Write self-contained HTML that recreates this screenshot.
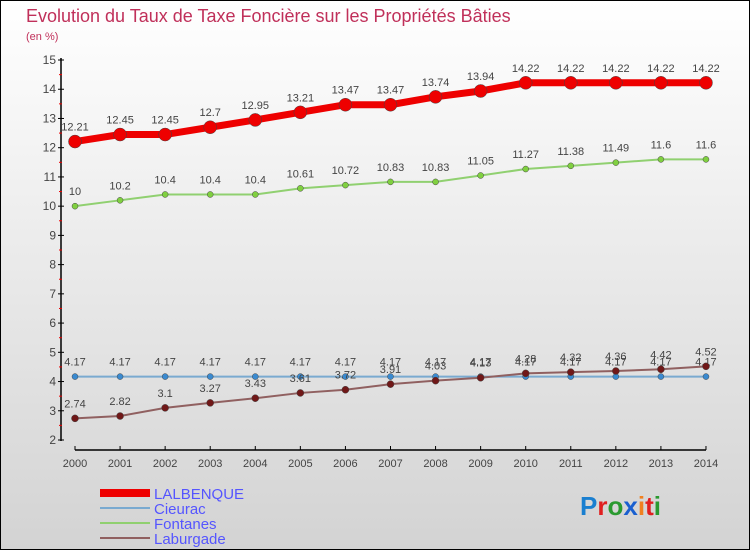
<!DOCTYPE html>
<html><head><meta charset="utf-8"><style>
body{margin:0;width:750px;height:550px;overflow:hidden;font-family:"Liberation Sans",sans-serif}
#c{position:absolute;left:0;top:0;width:748px;height:548px;border:1px solid #000;background:linear-gradient(#fff,#d3d3d3)}
</style></head><body>
<div id="c">
<svg id="s" width="750" height="550" style="position:absolute;left:-1px;top:-1px">
<text x="26" y="22" font-size="18" fill="#c0305a">Evolution du Taux de Taxe Foncière sur les Propriétés Bâties</text>
<text x="26" y="40" font-size="11" fill="#c0305a">(en %)</text>
<g id="axes"></g><g id="series"></g>
<g>
<line x1="100" y1="493" x2="150" y2="493" stroke="#e00" stroke-width="8"/>
<text x="154" y="499" font-size="15" fill="#55f">LALBENQUE</text>
<line x1="100" y1="508" x2="150" y2="508" stroke="#7aaad0" stroke-width="2"/>
<text x="154" y="514" font-size="15" fill="#55f">Cieurac</text>
<line x1="100" y1="523" x2="150" y2="523" stroke="#90d070" stroke-width="2"/>
<text x="154" y="529" font-size="15" fill="#55f">Fontanes</text>
<line x1="100" y1="538" x2="150" y2="538" stroke="#906060" stroke-width="2"/>
<text x="154" y="544" font-size="15" fill="#55f">Laburgade</text>
</g>
<text x="580" y="515" font-size="26" font-weight="bold"><tspan fill="#1a7fd0">P</tspan><tspan fill="#e02020">r</tspan><tspan fill="#2a9a30">o</tspan><tspan fill="#1a60d0">x</tspan><tspan fill="#f08020">i</tspan><tspan fill="#e02020">t</tspan><tspan fill="#2a9a30">i</tspan></text>
</svg></div>
<script>
const years=[2000,2001,2002,2003,2004,2005,2006,2007,2008,2009,2010,2011,2012,2013,2014];
const lalbenque=[12.21,12.45,12.45,12.7,12.95,13.21,13.47,13.47,13.74,13.94,14.22,14.22,14.22,14.22,14.22];
const cieurac=[4.17,4.17,4.17,4.17,4.17,4.17,4.17,4.17,4.17,4.17,4.17,4.17,4.17,4.17,4.17];
const fontanes=[10,10.2,10.4,10.4,10.4,10.61,10.72,10.83,10.83,11.05,11.27,11.38,11.49,11.6,11.6];
const laburgade=[2.74,2.82,3.1,3.27,3.43,3.61,3.72,3.91,4.03,4.13,4.28,4.32,4.36,4.42,4.52];
const yTicks=[2,3,4,5,6,7,8,9,10,11,12,13,14,15];
const NS="http://www.w3.org/2000/svg";
const X=i=>75+i*45.07, Y=v=>440-(v-2)*29.23;
function mk(t,a,p){const e=document.createElementNS(NS,t);for(const k in a)e.setAttribute(k,a[k]);p.appendChild(e);return e;}
const ax=document.getElementById('axes');
mk('line',{x1:61,y1:58,x2:61,y2:441,stroke:'#000','stroke-width':1.5},ax);
mk('line',{x1:75,y1:450,x2:706,y2:450,stroke:'#000','stroke-width':1.5},ax);
yTicks.forEach(v=>{
 mk('line',{x1:58,y1:Y(v),x2:64,y2:Y(v),stroke:'#000'},ax);
 if(v<15)mk('line',{x1:59,y1:Y(v+0.5),x2:62,y2:Y(v+0.5),stroke:'#e00'},ax);
 const t=mk('text',{x:56,y:Y(v)+4,'font-size':12,fill:'#444','text-anchor':'end'},ax);t.textContent=v;
 
 
});
years.forEach((y,i)=>{
 mk('line',{x1:X(i),y1:446,x2:X(i),y2:450,stroke:'#000'},ax);
 const t=mk('text',{x:X(i),y:467,'font-size':11,fill:'#444','text-anchor':'middle'},ax);t.textContent=y;
 
 
});
const sg=document.getElementById('series');
function series(d,name,col,w,r,dot){
 const g=mk('g',{},sg);
 
 
 mk('polyline',{points:d.map((v,i)=>X(i)+','+Y(v)).join(' '),fill:'none',stroke:col,'stroke-width':w},g);
 d.forEach((v,i)=>{
  const c=mk('circle',{cx:X(i),cy:Y(v),r:r,fill:dot,stroke:'#444','stroke-width':0.5},g);
  
  
  const t=mk('text',{x:X(i),y:Y(v)-11,'font-size':11,fill:'#444','text-anchor':'middle'},g);t.textContent=v;
  
  
 });
}
series(cieurac,'cieurac','#7aaad0',2,3,'#3a8ad0');
series(laburgade,'laburgade','#906060',2,3.5,'#701818');
series(fontanes,'fontanes','#90d070',2,3,'#80d040');
series(lalbenque,'lalbenque','#e00',7,6.5,'#e00');
</script>
</body></html>
